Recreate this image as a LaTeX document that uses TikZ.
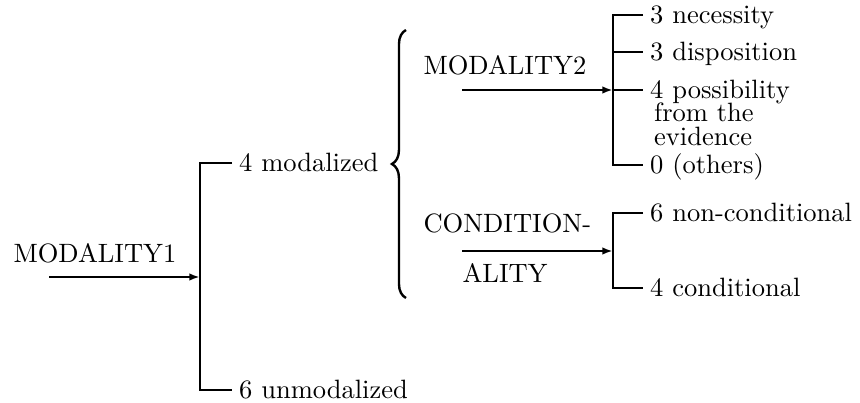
\documentclass[tikz,border=0pt]{standalone}
\usepackage{tikz}
\usetikzlibrary{arrows.meta,positioning,decorations.pathreplacing}
\tikzset{
  lbl/.style={anchor=base west, inner sep=0pt},
  leaf/.style={
    anchor=west, inner xsep=2.5pt, inner ysep=0pt,
    text height=1.55ex, text depth=0pt
  },
  arr/.style={-{Latex[length=4pt,width=2.8pt]}, line width=1.05pt},
  fork/.style={line width=1.05pt},
  brc/.style={line width=0.9pt, decorate, decoration={brace, amplitude=5.3pt}},
  every picture/.append style={line join=miter}
}
\begin{document}
\begin{tikzpicture}[x=0.377pt, y=-0.377pt]
  \useasboundingbox (0,0) rectangle (860,403);
  \coordinate (s1) at (49,277);
  \coordinate (j1) at (200,277);
  \coordinate (s2) at (462,90);
  \coordinate (j2) at (613,90);
  \coordinate (s3) at (462,251);
  \coordinate (j3) at (613,251);
  \node[lbl] (mod1) at (13,263) {MODALITY1};
  \node[lbl] (mod2) at (423,75) {MODALITY2};
  \node[lbl] (cnd1) at (423,233) {CONDITION-};
  \node[lbl] (cnd2) at (462,283) {ALITY};
  \node[leaf] (modz) at (232,163) {4 modalized};
  \node[leaf] (unmodz) at (232,390) {6 unmodalized};
  \node[leaf] (nec) at (643,15) {3 necessity};
  \node[leaf] (disp) at (643,52) {3 disposition};
  \node[leaf] (poss) at (643,90)
    {\vtop{\baselineskip=8.7pt \lineskiplimit=-10pt
      \hbox{4 possibility}\hbox{\hspace{1.5pt}from the}\hbox{\hspace{1.5pt}evidence}}};
  \node[leaf] (oth) at (643,165) {0 (others)};
  \node[leaf] (ncond) at (643,213) {6 non-conditional};
  \node[leaf] (cond) at (643,288) {4 conditional};
  \draw[brc] (406,298) -- (406,30);
  \draw[arr] (s1) -- (j1);
  \draw[arr] (s2) -- (j2);
  \draw[arr] (s3) -- (j3);
  \draw[fork] (modz.west) -| (j1) |- (unmodz.west);
  \draw[fork] (nec.west) -| (j2) |- (oth.west);
  \draw[fork] (j2 |- disp.west) -- (disp.west);
  \draw[fork] (j2 |- poss.west) -- (poss.west);
  \draw[fork] (ncond.west) -| (j3) |- (cond.west);
\end{tikzpicture}
\end{document}
